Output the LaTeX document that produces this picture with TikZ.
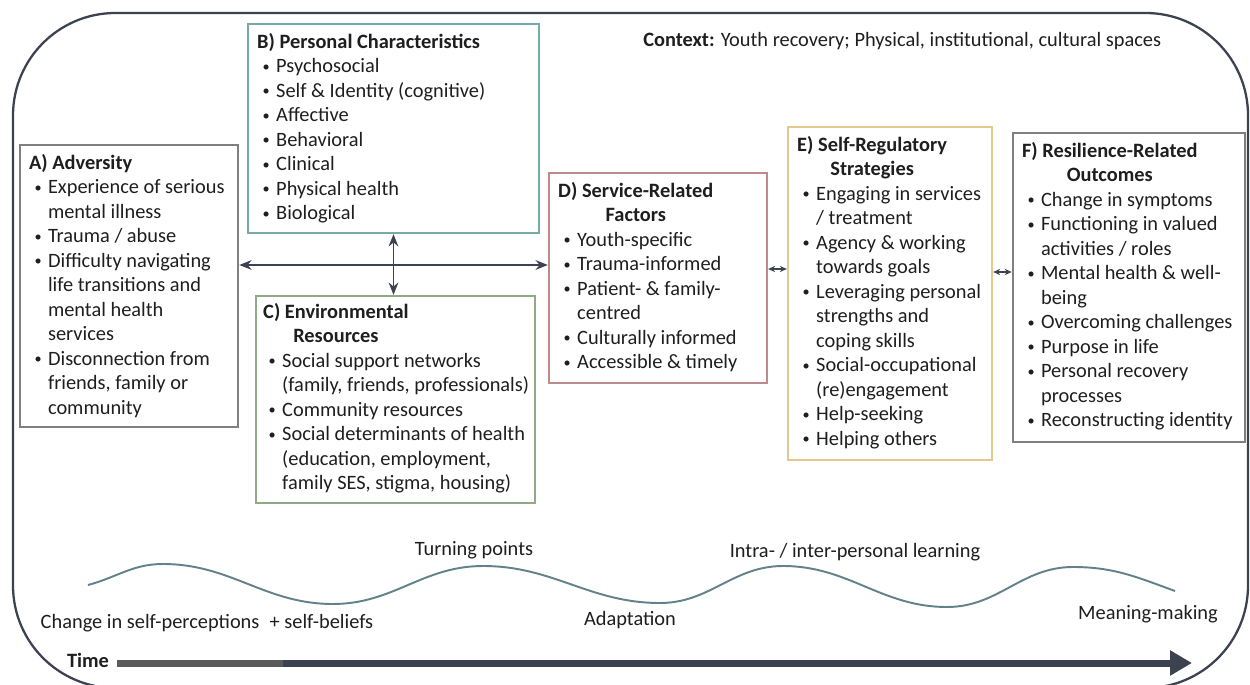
\documentclass[tikz,border=0pt]{standalone}
\usepackage{fontspec}
\usepackage{graphicx}
\setmainfont{Carlito}
\usetikzlibrary{positioning, arrows.meta}
\definecolor{Frame}{HTML}{3C4250}
\definecolor{BoxGray}{HTML}{808080}
\definecolor{BoxTeal}{HTML}{76ABA6}
\definecolor{BoxGreen}{HTML}{90AA88}
\definecolor{BoxRose}{HTML}{BF8A8C}
\definecolor{BoxGold}{HTML}{E6C88C}
\definecolor{Wave}{HTML}{62818A}
\definecolor{BarGray}{HTML}{5A5A5A}
\definecolor{Ink}{HTML}{1E1E1E}
\newcommand{\boxfont}{\fontsize{11.6}{13.94}\selectfont}
\newlength{\ttlw}
\newcommand{\bu}{\makebox[0.3cm][l]{\hspace*{0.03cm}\raisebox{0.15ex}{\scalebox{0.7}{\textbullet}}}}
\newcommand{\onettl}[1]{\multicolumn{2}{@{}l@{}}{\hspace*{-0.08cm}\bfseries #1}\\}
\newcommand{\twottl}[2]{\onettl{#1}\multicolumn{2}{@{}l@{}}{\settowidth{\ttlw}{\bfseries #1}\hspace*{-0.08cm}\bfseries\makebox[\ttlw][c]{#2}}\\}
\tikzset{
    card/.style={rectangle, line width=1.3pt, inner sep=0pt},
    cardtext/.style={anchor=north west, inner sep=0pt, font=\boxfont, text=Ink},
    dlink/.style={{Stealth[length=7pt,width=5.5pt]}-{Stealth[length=7pt,width=5.5pt]}, line width=1.1pt, color=Frame},
    slink/.style={{Stealth[length=4pt,width=3.5pt]}-{Stealth[length=4pt,width=3.5pt]}, line width=1pt, color=Frame},
    wave/.style={line width=1.1pt, color=Wave},
    phase/.style={font=\boxfont, text=Ink, inner sep=0pt},
}

\begin{document}
\begin{tikzpicture}[x=0.02cm, y=-0.02cm]
    \useasboundingbox (0,0) rectangle (1250,685);

    % Cornice esterna
    \draw[Frame, line width=1.3pt, rounded corners=2.05cm] (13,13) rectangle (1248,688);

    % Contesto
    \node[phase, anchor=base west] (ctx) at (643,47) {\textbf{Context:} Youth recovery; Physical, institutional, cultural spaces};

    % --- Box A-F ---
    \node[card, draw=BoxGray, line width=1.5pt, minimum width=4.36cm, minimum height=5.64cm] (adv) at (129,286) {};
    \node[card, draw=BoxTeal, minimum width=5.82cm, minimum height=4.18cm] (pers) at (393.5,128.5) {};
    \node[card, draw=BoxGreen, minimum width=5.58cm, minimum height=4.14cm] (env) at (395.5,399.5) {};
    \node[card, draw=BoxRose, minimum width=4.36cm, minimum height=4.2cm] (svc) at (658,278) {};
    \node[card, draw=BoxGold, minimum width=4.08cm, minimum height=6.66cm] (selfreg) at (890,293.5) {};
    \node[card, draw=BoxGray, line width=1.5pt, minimum width=4.64cm, minimum height=6.18cm] (outc) at (1129,287.5) {};

    % Testi
    \node[cardtext] (advtxt) at ([xshift=0.28cm, yshift=-0.16cm]adv.north west) {\begin{tabular}{@{}l@{}l@{}}
        \onettl{A) Adversity}
        \bu & Experience of serious\\
            & mental illness\\
        \bu & Trauma / abuse\\
        \bu & Difficulty navigating\\
            & life transitions and\\
            & mental health\\
            & services\\
        \bu & Disconnection from\\
            & friends, family or\\
            & community
    \end{tabular}};

    \node[cardtext] (perstxt) at ([xshift=0.28cm, yshift=-0.16cm]pers.north west) {\begin{tabular}{@{}l@{}l@{}}
        \onettl{B) Personal Characteristics}
        \bu & Psychosocial\\
        \bu & Self \& Identity (cognitive)\\
        \bu & Affective\\
        \bu & Behavioral\\
        \bu & Clinical\\
        \bu & Physical health\\
        \bu & Biological
    \end{tabular}};

    \node[cardtext] (envtxt) at ([xshift=0.24cm, yshift=-0.12cm]env.north west) {\begin{tabular}{@{}l@{}l@{}}
        \twottl{C) Environmental}{Resources}
        \bu & Social support networks\\
            & (family, friends, professionals)\\
        \bu & Community resources\\
        \bu & Social determinants of health\\
            & (education, employment,\\
            & family SES, stigma, housing)
    \end{tabular}};

    \node[cardtext] (svctxt) at ([xshift=0.28cm, yshift=-0.16cm]svc.north west) {\begin{tabular}{@{}l@{}l@{}}
        \twottl{D) Service-Related}{Factors}
        \bu & Youth-specific\\
        \bu & Trauma-informed\\
        \bu & Patient- \& family-\\
            & centred\\
        \bu & Culturally informed\\
        \bu & Accessible \& timely
    \end{tabular}};

    \node[cardtext] (selfregtxt) at ([xshift=0.28cm, yshift=-0.16cm]selfreg.north west) {\begin{tabular}{@{}l@{}l@{}}
        \twottl{E) Self-Regulatory}{Strategies}
        \bu & Engaging in services\\
            & / treatment\\
        \bu & Agency \& working\\
            & towards goals\\
        \bu & Leveraging personal\\
            & strengths and\\
            & coping skills\\
        \bu & Social-occupational\\
            & (re)engagement\\
        \bu & Help-seeking\\
        \bu & Helping others
    \end{tabular}};

    \node[cardtext] (outctxt) at ([xshift=0.28cm, yshift=-0.16cm]outc.north west) {\begin{tabular}{@{}l@{}l@{}}
        \twottl{F) Resilience-Related}{Outcomes}
        \bu & Change in symptoms\\
        \bu & Functioning in valued\\
            & activities / roles\\
        \bu & Mental health \& well-\\
            & being\\
        \bu & Overcoming challenges\\
        \bu & Purpose in life\\
        \bu & Personal recovery\\
            & processes\\
        \bu & Reconstructing identity
    \end{tabular}};

    % --- Frecce ---
    \coordinate (hy) at (0,265);
    \coordinate (dey) at (0,269);
    \coordinate (efy) at (0,272);
    \draw[dlink] (adv.east |- hy) -- (svc.west |- hy);
    \draw[dlink] (pers.south) -- (pers.south |- env.north);
    \draw[slink] (svc.east |- dey) -- (selfreg.west |- dey);
    \draw[slink] (selfreg.east |- efy) -- (outc.west |- efy);

    % --- Onda dei processi ---
    \draw[wave] (88,585) to[out=15,in=180] (163,564) to[out=0,in=180] (333,604)
        to[out=0,in=180] (483,566) to[out=0,in=180] (660,603)
        to[out=0,in=180] (783,566) to[out=0,in=180] (947,607)
        to[out=0,in=180] (1073,567) to[out=0,in=160] (1175,591);

    \node[phase] (chg) at (207,623) {Change in self-perceptions \;+ self-beliefs};
    \node[phase] (turn) at (474,550) {Turning points};
    \node[phase] (adapt) at (630,620) {Adaptation};
    \node[phase] (learn) at (855,552) {Intra- / inter-personal learning};
    \node[phase] (mean) at (1148,614) {Meaning-making};

    % --- Tempo ---
    \node[phase, font=\boxfont\bfseries] (time) at (88,660) {Time};
    \coordinate (tend) at (1192,663);
    \path (time.east |- tend) coordinate (tstart);
    \draw[Frame, line width=0.14cm, -{Triangle[length=0.44cm, width=0.48cm]}] ([xshift=0.16cm]tstart) -- (tend);
    \draw[BarGray, line width=0.14cm] ([xshift=0.16cm]tstart) -- ++(166,0);
\end{tikzpicture}
\end{document}
